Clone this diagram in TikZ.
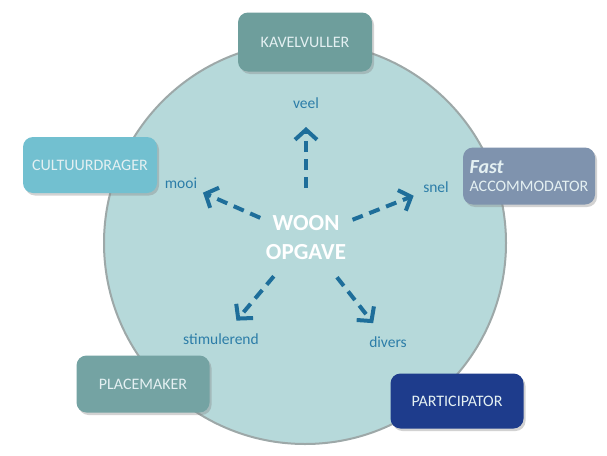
\documentclass[tikz,border=0pt]{standalone}
\usepackage{fontspec}
\setmainfont{Carlito}
\usetikzlibrary{arrows.meta,shadows}
\definecolor{ringfill}{HTML}{B6D9DA}
\definecolor{ringline}{HTML}{9DA8A8}
\definecolor{kavcol}{HTML}{6E9E9C}
\definecolor{cultcol}{HTML}{72C0D0}
\definecolor{acccol}{HTML}{7F93AE}
\definecolor{placecol}{HTML}{74A3A3}
\definecolor{partcol}{HTML}{1E3C8C}
\definecolor{labelcol}{HTML}{2C7DA8}
\definecolor{arrowcol}{HTML}{1E6E9A}
\definecolor{roletext}{HTML}{E4F0F2}
\begin{document}
\begin{tikzpicture}[x=1pt,y=-1pt,
        role/.style={rounded corners=10pt,minimum width=133pt,minimum height=57pt,
            text=roletext,font=\fontsize{16}{18}\selectfont,
            drop shadow={shadow xshift=2pt,shadow yshift=-2.5pt,opacity=0.35}},
        value/.style={text=labelcol,font=\fontsize{15.5}{17}\selectfont},
        push/.style={draw=arrowcol,line width=4pt,dash pattern=on 11pt off 7pt,
            -{Straight Barb[length=10pt,width=22pt,line width=4pt]},
            shorten <=50pt,shorten >=24pt}]
        \useasboundingbox (0,0) rectangle (607,455);
        \fill[white] (0,0) rectangle (607,455);
        \draw[ringline,line width=2pt,fill=ringfill] (305,243) circle (201pt);
        \node[font=\bfseries\fontsize{23}{29}\selectfont,text=white,align=center] (woon) at (306,238) {WOON\\OPGAVE};
        % values round the core
        \node[value] (veel) at (306,103) {veel};
        \node[value] (mooi) at (181,183) {mooi};
        \node[value] (snel) at (436,187) {snel};
        \node[value] (stim) at (221,339) {stimulerend};
        \node[value] (div) at (388,342) {divers};
        \foreach \v in {veel,mooi,snel,stim,div} {
            \draw[push] (woon.center) -- (\v.center);
        }
        % roles on the ring
        \node[role,fill=kavcol,minimum width=134pt,minimum height=59pt] (kav) at (305,42) {KAVELVULLER};
        \node[role,fill=cultcol,minimum width=134pt,minimum height=56pt] (cult) at (90,165) {CULTUURDRAGER};
        \node[role,fill=acccol,minimum width=132pt,align=left,inner sep=5pt] (acc) at (529,176)
            {{\bfseries\itshape\fontsize{20}{17}\selectfont Fast}\\ACCOMMODATOR};
        \node[role,fill=placecol] (place) at (143,384) {PLACEMAKER};
        \node[role,fill=partcol,minimum height=55pt] (part) at (457,401) {PARTICIPATOR};
    \end{tikzpicture}
\end{document}
